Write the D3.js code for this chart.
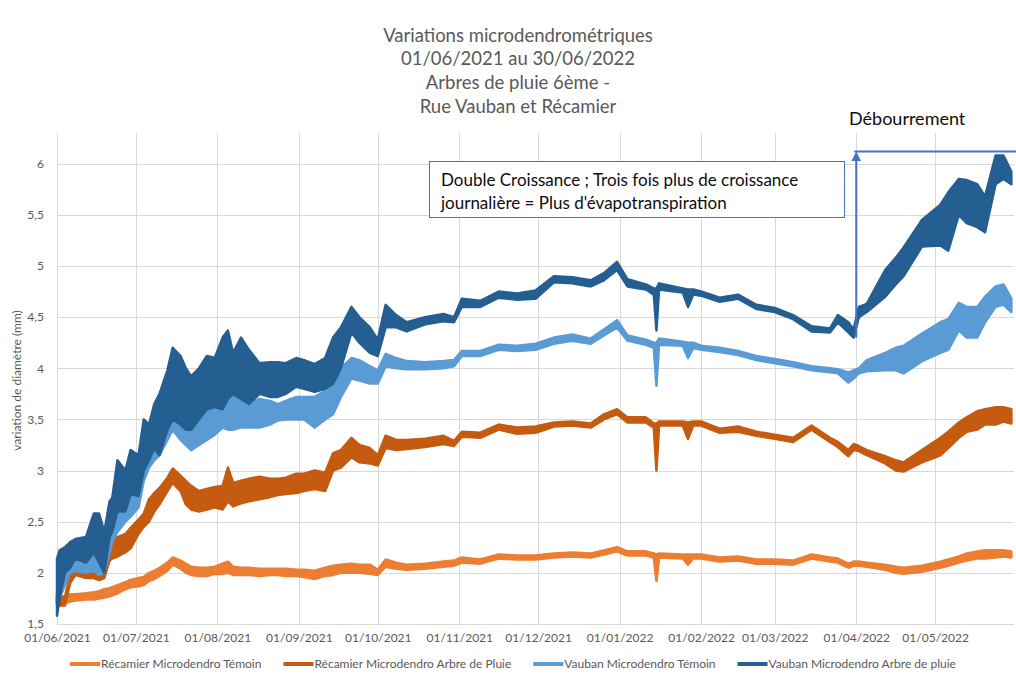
<!DOCTYPE html>
<html>
<head>
<meta charset="utf-8">
<title>Variations microdendrométriques</title>
<style>
  body { margin: 0; background: #fff; }
  svg text { font-family: Lato, "Open Sans", sans-serif; }
</style>
</head>
<body>
<script src="https://d3js.org/d3.v7.min.js"></script>
<script>

// sample dates (daily min / max)
var dates = [
  "2021-06-01","2021-06-02","2021-06-04","2021-06-06","2021-06-08","2021-06-12","2021-06-15","2021-06-17","2021-06-19","2021-06-21",
  "2021-06-22","2021-06-24","2021-06-27","2021-06-29","2021-07-02","2021-07-04","2021-07-06","2021-07-08","2021-07-10","2021-07-13",
  "2021-07-15","2021-07-18","2021-07-20","2021-07-22","2021-07-25","2021-07-28","2021-07-31","2021-08-03","2021-08-05","2021-08-07",
  "2021-08-10","2021-08-13","2021-08-17","2021-08-21","2021-08-24","2021-08-27","2021-08-31","2021-09-03","2021-09-07","2021-09-11",
  "2021-09-14","2021-09-17","2021-09-21","2021-09-24","2021-09-28","2021-10-01","2021-10-04","2021-10-08","2021-10-12","2021-10-19",
  "2021-10-26","2021-10-30","2021-11-02","2021-11-09","2021-11-16","2021-11-23","2021-11-30","2021-12-07","2021-12-14","2021-12-21",
  "2021-12-26","2021-12-31","2022-01-04","2022-01-11","2022-01-14","2022-01-15","2022-01-16","2022-01-25","2022-01-27","2022-01-29",
  "2022-02-01","2022-02-08","2022-02-15","2022-02-22","2022-03-01","2022-03-08","2022-03-15","2022-03-22","2022-03-25","2022-03-29",
  "2022-03-31","2022-04-02","2022-04-05","2022-04-12","2022-04-16","2022-04-19","2022-04-26","2022-05-03","2022-05-06","2022-05-10",
  "2022-05-13","2022-05-17","2022-05-20","2022-05-24","2022-05-27","2022-05-30"
];

var recamierTemoinLow = [
  1.70,1.68,1.70,1.72,1.73,1.74,1.74,1.75,1.76,1.77,
  1.78,1.80,1.84,1.86,1.87,1.88,1.92,1.94,1.97,2.02,
  2.08,2.04,2.00,1.98,1.97,1.97,1.99,1.99,2.00,1.98,
  1.98,1.98,1.97,1.98,1.98,1.97,1.97,1.96,1.94,1.97,
  1.98,2.00,2.00,2.00,1.99,1.98,2.06,2.04,2.03,2.04,
  2.06,2.07,2.10,2.09,2.14,2.13,2.13,2.15,2.16,2.15,
  2.18,2.21,2.17,2.17,2.15,1.92,2.15,2.14,2.08,2.14,
  2.14,2.11,2.12,2.09,2.09,2.08,2.14,2.11,2.10,2.05,
  2.07,2.07,2.06,2.03,2.00,1.99,2.01,2.05,2.07,2.10,
  2.12,2.14,2.14,2.15,2.16,2.15
];
var recamierTemoinHigh = [
  1.76,1.76,1.77,1.79,1.79,1.80,1.81,1.82,1.84,1.85,
  1.86,1.88,1.91,1.93,1.95,1.96,2.00,2.02,2.05,2.10,
  2.15,2.12,2.09,2.06,2.05,2.05,2.06,2.09,2.11,2.06,
  2.05,2.05,2.04,2.04,2.04,2.04,2.03,2.03,2.02,2.05,
  2.07,2.08,2.09,2.08,2.08,2.03,2.13,2.10,2.08,2.09,
  2.11,2.12,2.15,2.13,2.18,2.17,2.17,2.19,2.20,2.19,
  2.22,2.25,2.21,2.21,2.19,2.18,2.19,2.18,2.18,2.18,
  2.18,2.15,2.16,2.13,2.13,2.12,2.18,2.15,2.14,2.09,
  2.11,2.11,2.10,2.08,2.06,2.05,2.07,2.11,2.13,2.16,
  2.19,2.21,2.22,2.22,2.22,2.21
];

var recamierArbreLow = [
  1.70,1.68,1.68,1.90,1.98,1.95,1.95,1.93,1.95,2.12,
  2.14,2.16,2.20,2.24,2.38,2.45,2.50,2.60,2.67,2.80,
  2.88,2.80,2.67,2.62,2.60,2.62,2.64,2.62,2.70,2.65,
  2.68,2.70,2.72,2.74,2.76,2.77,2.78,2.80,2.82,2.80,
  3.00,3.03,3.13,3.08,3.07,3.05,3.22,3.20,3.21,3.23,
  3.26,3.24,3.33,3.32,3.40,3.36,3.37,3.43,3.44,3.42,
  3.50,3.55,3.47,3.47,3.42,3.00,3.44,3.44,3.31,3.44,
  3.44,3.37,3.38,3.34,3.31,3.28,3.40,3.28,3.23,3.14,
  3.20,3.19,3.15,3.07,3.00,2.99,3.08,3.15,3.22,3.32,
  3.38,3.40,3.45,3.45,3.48,3.46
];
var recamierArbreHigh = [
  1.76,1.78,1.76,1.98,2.08,2.06,2.10,2.05,2.05,2.30,
  2.33,2.35,2.38,2.44,2.52,2.58,2.72,2.78,2.83,2.93,
  3.02,2.95,2.90,2.85,2.80,2.82,2.84,2.85,3.03,2.88,
  2.90,2.92,2.94,2.92,2.92,2.93,2.97,2.97,3.00,2.98,
  3.17,3.20,3.32,3.25,3.22,3.15,3.34,3.30,3.30,3.31,
  3.34,3.29,3.38,3.37,3.45,3.42,3.43,3.47,3.48,3.46,
  3.55,3.60,3.52,3.52,3.46,3.46,3.48,3.48,3.47,3.48,
  3.48,3.41,3.43,3.38,3.35,3.32,3.44,3.32,3.28,3.20,
  3.26,3.24,3.20,3.14,3.10,3.08,3.20,3.32,3.38,3.47,
  3.52,3.58,3.60,3.62,3.62,3.60
];

var vaubanTemoinLow = [
  1.72,1.75,1.88,2.00,2.02,2.00,2.02,1.98,2.00,2.20,
  2.30,2.40,2.50,2.55,2.64,2.90,3.03,3.10,3.15,3.30,
  3.40,3.30,3.25,3.20,3.25,3.30,3.35,3.42,3.40,3.40,
  3.42,3.42,3.42,3.45,3.49,3.50,3.50,3.50,3.42,3.50,
  3.55,3.72,3.90,3.88,3.85,3.85,4.02,4.00,3.99,3.99,
  4.00,4.02,4.12,4.12,4.18,4.17,4.18,4.24,4.27,4.24,
  4.32,4.40,4.27,4.23,4.20,3.83,4.23,4.22,4.10,4.20,
  4.18,4.16,4.13,4.08,4.05,4.02,3.98,3.96,3.95,3.86,
  3.90,3.95,3.97,3.98,3.98,3.95,4.07,4.15,4.18,4.37,
  4.30,4.30,4.45,4.60,4.62,4.55
];
var vaubanTemoinHigh = [
  1.80,2.02,2.15,2.20,2.25,2.18,2.20,2.12,2.10,2.38,
  2.42,2.60,2.75,2.75,3.00,3.10,3.22,3.30,3.40,3.80,
  3.72,3.65,3.62,3.55,3.55,3.60,3.60,3.85,3.80,3.75,
  3.68,3.65,3.70,3.68,3.65,3.68,3.72,3.72,3.72,3.78,
  3.85,4.00,4.10,4.08,4.02,3.98,4.14,4.10,4.07,4.06,
  4.07,4.08,4.17,4.17,4.23,4.22,4.24,4.30,4.33,4.29,
  4.38,4.47,4.32,4.28,4.25,4.25,4.29,4.26,4.25,4.25,
  4.22,4.20,4.17,4.12,4.09,4.06,4.02,4.00,3.99,3.96,
  3.98,4.00,4.08,4.15,4.20,4.22,4.34,4.45,4.48,4.64,
  4.60,4.60,4.70,4.80,4.82,4.68
];

var vaubanArbreLow = [
  1.58,1.75,2.00,2.05,2.14,2.10,2.20,2.10,2.00,2.35,
  2.40,2.60,2.60,2.77,2.75,3.00,3.10,3.22,3.15,3.40,
  3.50,3.45,3.40,3.40,3.50,3.60,3.62,3.60,3.70,3.75,
  3.70,3.65,3.75,3.72,3.72,3.75,3.82,3.80,3.77,3.80,
  3.85,4.00,4.35,4.25,4.15,4.12,4.40,4.40,4.36,4.43,
  4.46,4.45,4.60,4.60,4.69,4.67,4.68,4.84,4.83,4.80,
  4.86,4.96,4.80,4.77,4.72,4.37,4.77,4.74,4.60,4.72,
  4.71,4.65,4.68,4.58,4.55,4.48,4.36,4.35,4.45,4.35,
  4.30,4.50,4.55,4.70,4.82,4.90,5.19,5.20,5.15,5.50,
  5.42,5.38,5.33,5.80,5.85,5.80
];
var vaubanArbreHigh = [
  2.14,2.22,2.25,2.30,2.33,2.35,2.58,2.58,2.40,2.70,
  2.73,3.10,3.00,3.20,3.15,3.50,3.45,3.65,3.75,3.98,
  4.20,4.12,4.00,3.92,4.00,4.12,4.10,4.30,4.37,4.15,
  4.30,4.18,4.05,4.06,4.06,4.05,4.10,4.08,4.04,4.10,
  4.30,4.40,4.60,4.50,4.40,4.28,4.62,4.52,4.45,4.50,
  4.53,4.50,4.68,4.66,4.75,4.73,4.76,4.90,4.89,4.86,
  4.93,5.04,4.87,4.82,4.78,4.78,4.83,4.78,4.77,4.77,
  4.75,4.69,4.72,4.62,4.59,4.52,4.41,4.39,4.52,4.45,
  4.38,4.60,4.63,4.96,5.08,5.18,5.45,5.60,5.72,5.85,
  5.84,5.80,5.68,6.08,6.08,5.92
];

var seriesNames = [
  "Récamier Microdendro Témoin",
  "Récamier Microdendro Arbre de Pluie",
  "Vauban Microdendro Témoin",
  "Vauban Microdendro Arbre de pluie"
];
var seriesColors = ["#ED7D31", "#C55A11", "#5B9BD5", "#255E91"];

var yTicks = [1.5, 2, 2.5, 3, 3.5, 4, 4.5, 5, 5.5, 6];
var xTicks = ["2021-06-01","2021-07-01","2021-08-01","2021-09-01","2021-10-01","2021-11-01",
              "2021-12-01","2022-01-01","2022-02-01","2022-03-01","2022-04-01","2022-05-01"];

var titleLines = [
  "Variations microdendrométriques",
  "01/06/2021 au 30/06/2022",
  "Arbres de pluie 6ème -",
  "Rue Vauban et Récamier"
];
var noteLines = [
  "Double Croissance ; Trois fois plus de croissance",
  "journalière = Plus d'évapotranspiration"
];
var budburstLabel = "Débourrement";
var budburstDate = "2022-04-01";
var budburstFrom = 4.3, budburstTo = 6.12;

var width = 1016, height = 677;
var plotLeft = 57, plotRight = 1014, plotTop = 133, plotBottom = 624;

var parse = d3.timeParse("%Y-%m-%d");
var fmtTick = d3.timeFormat("%d/%m/%Y");

var x = d3.scaleTime()
    .domain([parse("2021-06-01"), parse("2022-05-31")])
    .range([plotLeft, plotRight]);

var y = d3.scaleLinear()
    .domain([1.5, 6.3])
    .range([plotBottom, plotTop]);

var svg = d3.select("body").append("svg")
    .attr("width", width)
    .attr("height", height);

// grid
svg.append("g").selectAll("line")
    .data(yTicks).enter().append("line")
    .attr("x1", plotLeft).attr("x2", plotRight)
    .attr("y1", function(d){ return Math.round(y(d)) + 0.5; })
    .attr("y2", function(d){ return Math.round(y(d)) + 0.5; })
    .attr("stroke", "#d9d9d9").attr("stroke-width", 1);

svg.append("g").selectAll("line")
    .data(xTicks).enter().append("line")
    .attr("x1", function(d){ return Math.round(x(parse(d))) + 0.5; })
    .attr("x2", function(d){ return Math.round(x(parse(d))) + 0.5; })
    .attr("y1", plotTop).attr("y2", plotBottom)
    .attr("stroke", "#d9d9d9").attr("stroke-width", 1);

// axes
var yAxis = svg.append("g")
    .attr("transform", "translate(" + (plotLeft - 10) + ",0)")
    .call(d3.axisLeft(y).tickValues(yTicks).tickSize(0)
        .tickFormat(function(d){ return String(d).replace(".", ","); }));
yAxis.select(".domain").remove();
yAxis.selectAll("text").attr("fill", "#595959").style("font-size", "12px");

var xAxis = svg.append("g")
    .attr("transform", "translate(0," + (plotBottom + 6) + ")")
    .call(d3.axisBottom(x).tickValues(xTicks.map(parse)).tickSize(0).tickFormat(fmtTick));
xAxis.select(".domain").remove();
xAxis.selectAll("text").attr("fill", "#595959").style("font-size", "12px");

svg.append("text")
    .attr("transform", "translate(21," + ((plotTop + plotBottom) / 2 + 2) + ") rotate(-90)")
    .attr("text-anchor", "middle")
    .attr("fill", "#595959")
    .style("font-size", "12px")
    .text("variation de diamètre (mm)");

// series
var lows = [recamierTemoinLow, recamierArbreLow, vaubanTemoinLow, vaubanArbreLow];
var highs = [recamierTemoinHigh, recamierArbreHigh, vaubanTemoinHigh, vaubanArbreHigh];

var band = d3.area()
    .x(function(d){ return x(d.date); })
    .y0(function(d){ return y(d.lo); })
    .y1(function(d){ return y(d.hi); });

seriesNames.forEach(function(name, i){
  var rows = dates.map(function(dt, j){
    return { date: parse(dt), lo: lows[i][j], hi: highs[i][j] };
  });
  svg.append("path")
      .datum(rows)
      .attr("d", band)
      .attr("fill", seriesColors[i])
      .attr("stroke", seriesColors[i])
      .attr("stroke-width", 2.5)
      .attr("stroke-linejoin", "round");
});

// title
svg.append("g").selectAll("text")
    .data(titleLines).enter().append("text")
    .attr("x", 518)
    .attr("y", function(d, i){ return 41.5 + i * 23.7; })
    .attr("text-anchor", "middle")
    .attr("fill", "#595959")
    .style("font-size", "18.5px")
    .text(function(d){ return d; });

// annotation box
svg.append("rect")
    .attr("x", 429.5).attr("y", 161.5)
    .attr("width", 415).attr("height", 56)
    .attr("fill", "#fff")
    .attr("stroke", "#4472C4").attr("stroke-width", 1);

svg.append("g").selectAll("text")
    .data(noteLines).enter().append("text")
    .attr("x", 441)
    .attr("y", function(d, i){ return 186 + i * 23; })
    .attr("fill", "#0d0d0d")
    .style("font-size", "17px")
    .text(function(d){ return d; });

// budburst arrow
var bx = x(parse(budburstDate));
svg.append("defs").append("marker")
    .attr("id", "head")
    .attr("viewBox", "0 0 10 10")
    .attr("refX", 8).attr("refY", 5)
    .attr("markerWidth", 5).attr("markerHeight", 5)
    .attr("orient", "auto")
  .append("path")
    .attr("d", "M0,0L10,5L0,10z")
    .attr("fill", "#4472C4");

svg.append("line")
    .attr("x1", bx).attr("x2", bx)
    .attr("y1", y(budburstFrom)).attr("y2", y(budburstTo) + 2)
    .attr("stroke", "#4472C4").attr("stroke-width", 2)
    .attr("marker-end", "url(#head)");

svg.append("line")
    .attr("x1", bx - 2).attr("x2", width)
    .attr("y1", y(budburstTo)).attr("y2", y(budburstTo))
    .attr("stroke", "#4472C4").attr("stroke-width", 2);

svg.append("text")
    .attr("x", 849).attr("y", 125)
    .attr("fill", "#0d0d0d")
    .style("font-size", "18px")
    .text(budburstLabel);

// legend
var legend = svg.append("g");
var lx = 0;
seriesNames.forEach(function(name, i){
  var g = legend.append("g").attr("transform", "translate(" + lx + ",0)");
  g.append("line")
      .attr("x1", 0).attr("x2", 30)
      .attr("y1", 0).attr("y2", 0)
      .attr("stroke", seriesColors[i]).attr("stroke-width", 4);
  var t = g.append("text")
      .attr("x", 31).attr("y", 4)
      .attr("fill", "#595959")
      .style("font-size", "12px")
      .text(name);
  lx += 31 + t.node().getComputedTextLength() + 22;
});
legend.attr("transform", "translate(" + (513 - (lx - 22) / 2) + ",664)");

</script>
</body>
</html>
